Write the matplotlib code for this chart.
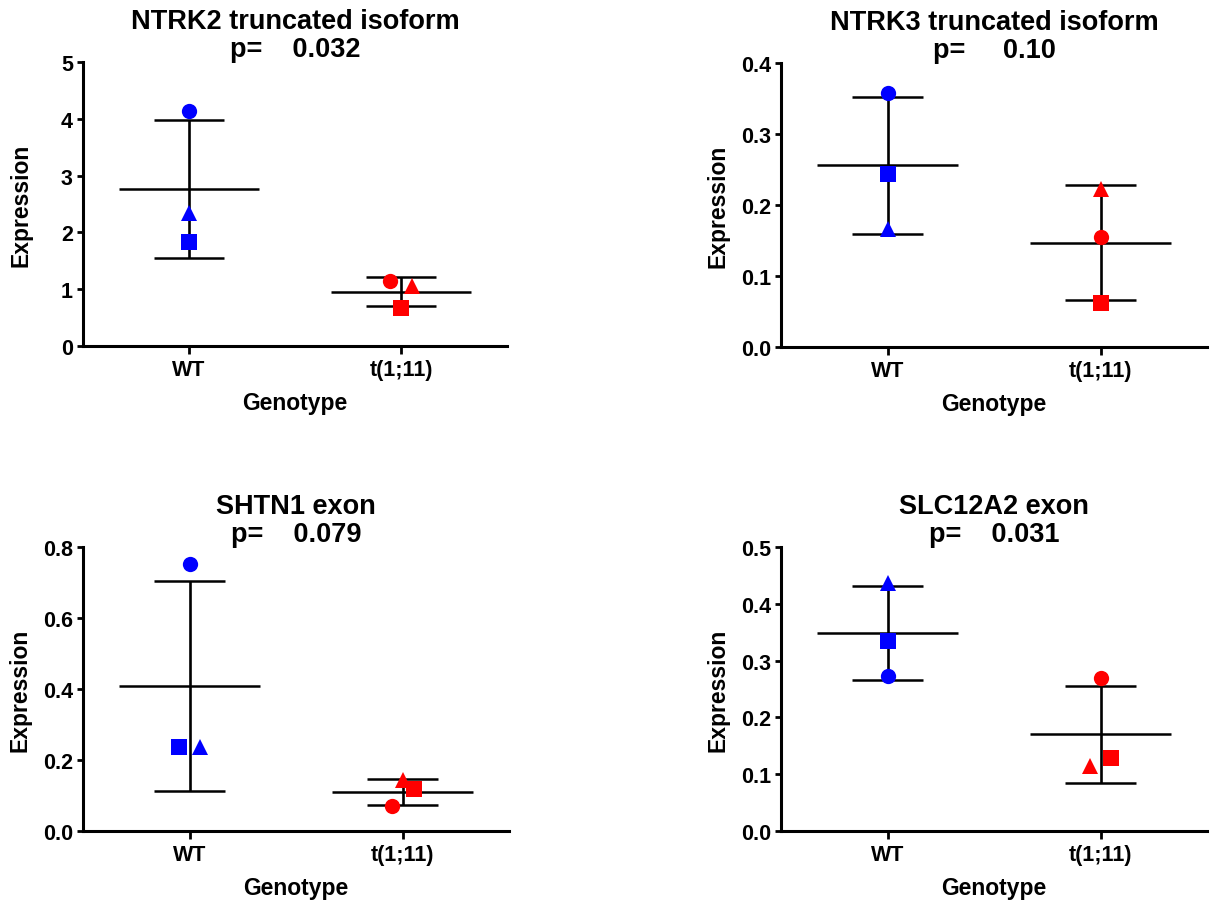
import matplotlib
matplotlib.use("Agg")
import matplotlib.pyplot as plt
import numpy as np

plt.rcParams['font.family'] = ['Liberation Sans', 'DejaVu Sans']
plt.rcParams['font.weight'] = 'bold'

# ---------------- data ----------------
groups = ["WT", "t(1;11)"]
shapes = ["circle", "triangle", "square"]

titles = ["NTRK2 truncated isoform", "NTRK3 truncated isoform", "SHTN1 exon", "SLC12A2 exon"]
pvalues = ["0.032", "0.10", "0.079", "0.031"]

# values per sample in order: circle, triangle, square
ntrk2_wt = [4.14, 2.34, 1.83]
ntrk2_t = [1.15, 1.05, 0.67]

ntrk3_wt = [0.358, 0.166, 0.243]
ntrk3_t = [0.155, 0.223, 0.062]

shtn1_wt = [0.751, 0.237, 0.237]
shtn1_t = [0.070, 0.143, 0.117]

slc12a2_wt = [0.273, 0.437, 0.335]
slc12a2_t = [0.269, 0.114, 0.129]

ytick_sets = [
    [0, 1, 2, 3, 4, 5],
    [0.0, 0.1, 0.2, 0.3, 0.4],
    [0.0, 0.2, 0.4, 0.6, 0.8],
    [0.0, 0.1, 0.2, 0.3, 0.4, 0.5],
]
ytick_fmt = ["{:.0f}", "{:.1f}", "{:.1f}", "{:.1f}"]

# ---------------- layout / style ----------------
W, H = 1216, 904
fig = plt.figure(figsize=(W / 100, H / 100), dpi=100)

# axes boxes in pixels: left, top, right, bottom
boxes = [
    (83, 63, 507, 347),
    (781, 64, 1207, 348),
    (83, 548, 509, 832),
    (781, 548, 1207, 832),
]
p_spaces = [4, 5, 4, 4]

# horizontal jitter of samples (circle, triangle, square) per panel and group
jitter = [
    ([0, 0, 0], [-0.05, 0.05, 0]),
    ([0, 0, 0], [0, 0, 0]),
    ([0, 0.05, -0.05], [-0.05, 0, 0.055]),
    ([0, 0, 0], [0, -0.05, 0.05]),
]
mk = {"circle": "o", "triangle": "^", "square": "s"}
colors = ["#0000ff", "#ff0000"]

data = [
    (ntrk2_wt, ntrk2_t),
    (ntrk3_wt, ntrk3_t),
    (shtn1_wt, shtn1_t),
    (slc12a2_wt, slc12a2_t),
]

for i in range(4):
    l, t, r, b = boxes[i]
    ax = fig.add_axes([l / W, 1 - b / H, (r - l) / W, (b - t) / H])
    for gi, vals in enumerate(data[i]):
        vals = np.asarray(vals, dtype=float)
        m = vals.mean()
        sd = vals.std(ddof=1)
        ax.hlines(m, gi - 0.33, gi + 0.33, color="black", lw=1.8, zorder=2)
        ax.hlines([m - sd, m + sd], gi - 0.165, gi + 0.165, color="black", lw=1.8, zorder=2)
        ax.vlines(gi, m - sd, m + sd, color="black", lw=1.9, zorder=2)
        for si, s in enumerate(shapes):
            ax.plot(gi + jitter[i][gi][si], vals[si], linestyle="none", marker=mk[s],
                    ms=11, mew=0, color=colors[gi], zorder=3, clip_on=False)
    yt = ytick_sets[i]
    ax.set_ylim(yt[0], yt[-1])
    ax.set_yticks(yt)
    ax.set_yticklabels([ytick_fmt[i].format(v) for v in yt])
    ax.set_xlim(-0.5, 1.5)
    ax.set_xticks([0, 1])
    ax.set_xticklabels(groups)
    for sp in ["top", "right"]:
        ax.spines[sp].set_visible(False)
    for sp in ["left", "bottom"]:
        ax.spines[sp].set_linewidth(2.2)
    ax.tick_params(axis="y", length=4.3, width=2.0, pad=3, labelsize=15.5)
    ax.tick_params(axis="x", length=5.8, width=2.0, pad=3.5, labelsize=15.5)
    for lab in ax.get_xticklabels() + ax.get_yticklabels():
        lab.set_fontweight("bold")
    ax.set_ylabel("Expression", fontsize=16.5, fontweight="bold")
    ax.set_xlabel("Genotype", fontsize=16.5, fontweight="bold")
    ax.yaxis.set_label_coords(-0.12, 0.5)
    ax.xaxis.set_label_coords(0.5, -0.16)
    ax.xaxis.label.set_va("top")
    ax.set_title(titles[i] + "\np=" + " " * p_spaces[i] + pvalues[i],
                 fontsize=19.5, fontweight="bold", pad=1, linespacing=1.1)

fig.savefig("out.png", dpi=100)
